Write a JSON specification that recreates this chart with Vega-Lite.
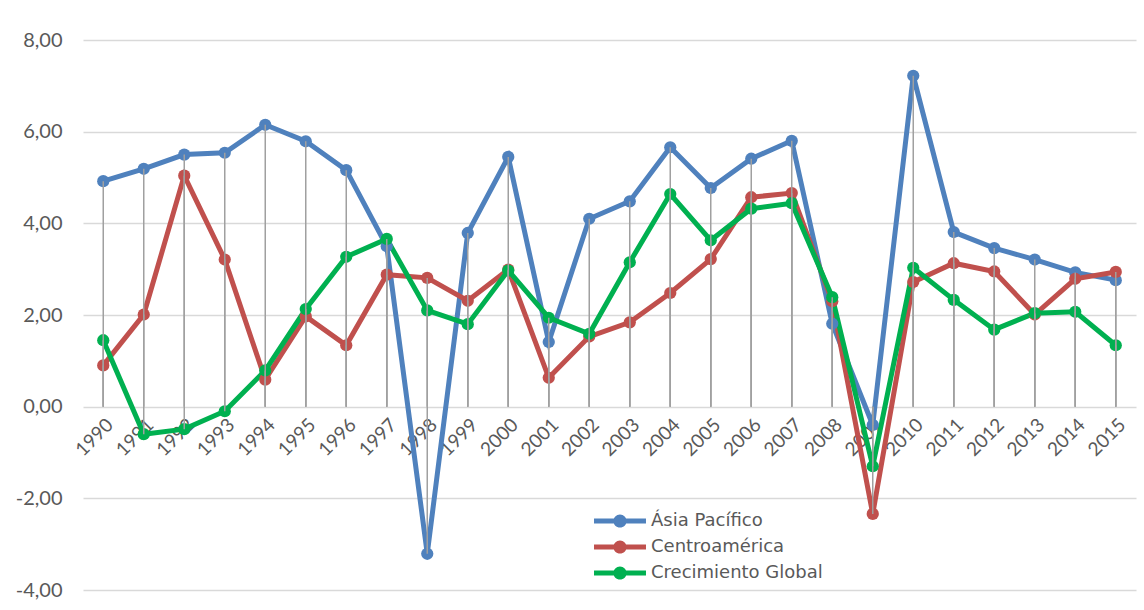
{
  "$schema": "https://vega.github.io/schema/vega-lite/v6.json",
  "width": 1053,
  "height": 550,
  "autosize": "none",
  "padding": {"left": 83, "top": 40, "right": 8, "bottom": 20},
  "background": "white",
  "config": {"view": {"stroke": null}, "font": "Lato"},
  "data": {"values": [
    {"year": "1990", "region": "Ásia Pacífico", "value": 4.92},
    {"year": "1991", "region": "Ásia Pacífico", "value": 5.19},
    {"year": "1992", "region": "Ásia Pacífico", "value": 5.50},
    {"year": "1993", "region": "Ásia Pacífico", "value": 5.54},
    {"year": "1994", "region": "Ásia Pacífico", "value": 6.15},
    {"year": "1995", "region": "Ásia Pacífico", "value": 5.79},
    {"year": "1996", "region": "Ásia Pacífico", "value": 5.16},
    {"year": "1997", "region": "Ásia Pacífico", "value": 3.50},
    {"year": "1998", "region": "Ásia Pacífico", "value": -3.21},
    {"year": "1999", "region": "Ásia Pacífico", "value": 3.79},
    {"year": "2000", "region": "Ásia Pacífico", "value": 5.45},
    {"year": "2001", "region": "Ásia Pacífico", "value": 1.41},
    {"year": "2002", "region": "Ásia Pacífico", "value": 4.10},
    {"year": "2003", "region": "Ásia Pacífico", "value": 4.48},
    {"year": "2004", "region": "Ásia Pacífico", "value": 5.66},
    {"year": "2005", "region": "Ásia Pacífico", "value": 4.77},
    {"year": "2006", "region": "Ásia Pacífico", "value": 5.41},
    {"year": "2007", "region": "Ásia Pacífico", "value": 5.80},
    {"year": "2008", "region": "Ásia Pacífico", "value": 1.81},
    {"year": "2009", "region": "Ásia Pacífico", "value": -0.40},
    {"year": "2010", "region": "Ásia Pacífico", "value": 7.22},
    {"year": "2011", "region": "Ásia Pacífico", "value": 3.81},
    {"year": "2012", "region": "Ásia Pacífico", "value": 3.46},
    {"year": "2013", "region": "Ásia Pacífico", "value": 3.21},
    {"year": "2014", "region": "Ásia Pacífico", "value": 2.93},
    {"year": "2015", "region": "Ásia Pacífico", "value": 2.76},
    {"year": "1990", "region": "Centroamérica", "value": 0.90},
    {"year": "1991", "region": "Centroamérica", "value": 2.01},
    {"year": "1992", "region": "Centroamérica", "value": 5.04},
    {"year": "1993", "region": "Centroamérica", "value": 3.21},
    {"year": "1994", "region": "Centroamérica", "value": 0.59},
    {"year": "1995", "region": "Centroamérica", "value": 1.97},
    {"year": "1996", "region": "Centroamérica", "value": 1.34},
    {"year": "1997", "region": "Centroamérica", "value": 2.88},
    {"year": "1998", "region": "Centroamérica", "value": 2.81},
    {"year": "1999", "region": "Centroamérica", "value": 2.31},
    {"year": "2000", "region": "Centroamérica", "value": 2.99},
    {"year": "2001", "region": "Centroamérica", "value": 0.63},
    {"year": "2002", "region": "Centroamérica", "value": 1.53},
    {"year": "2003", "region": "Centroamérica", "value": 1.84},
    {"year": "2004", "region": "Centroamérica", "value": 2.48},
    {"year": "2005", "region": "Centroamérica", "value": 3.22},
    {"year": "2006", "region": "Centroamérica", "value": 4.57},
    {"year": "2007", "region": "Centroamérica", "value": 4.66},
    {"year": "2008", "region": "Centroamérica", "value": 2.30},
    {"year": "2009", "region": "Centroamérica", "value": -2.34},
    {"year": "2010", "region": "Centroamérica", "value": 2.72},
    {"year": "2011", "region": "Centroamérica", "value": 3.13},
    {"year": "2012", "region": "Centroamérica", "value": 2.95},
    {"year": "2013", "region": "Centroamérica", "value": 2.01},
    {"year": "2014", "region": "Centroamérica", "value": 2.79},
    {"year": "2015", "region": "Centroamérica", "value": 2.94},
    {"year": "1990", "region": "Crecimiento Global", "value": 1.45},
    {"year": "1991", "region": "Crecimiento Global", "value": -0.60},
    {"year": "1992", "region": "Crecimiento Global", "value": -0.49},
    {"year": "1993", "region": "Crecimiento Global", "value": -0.10},
    {"year": "1994", "region": "Crecimiento Global", "value": 0.79},
    {"year": "1995", "region": "Crecimiento Global", "value": 2.13},
    {"year": "1996", "region": "Crecimiento Global", "value": 3.27},
    {"year": "1997", "region": "Crecimiento Global", "value": 3.66},
    {"year": "1998", "region": "Crecimiento Global", "value": 2.10},
    {"year": "1999", "region": "Crecimiento Global", "value": 1.80},
    {"year": "2000", "region": "Crecimiento Global", "value": 2.97},
    {"year": "2001", "region": "Crecimiento Global", "value": 1.94},
    {"year": "2002", "region": "Crecimiento Global", "value": 1.59},
    {"year": "2003", "region": "Crecimiento Global", "value": 3.15},
    {"year": "2004", "region": "Crecimiento Global", "value": 4.64},
    {"year": "2005", "region": "Crecimiento Global", "value": 3.63},
    {"year": "2006", "region": "Crecimiento Global", "value": 4.32},
    {"year": "2007", "region": "Crecimiento Global", "value": 4.44},
    {"year": "2008", "region": "Crecimiento Global", "value": 2.39},
    {"year": "2009", "region": "Crecimiento Global", "value": -1.30},
    {"year": "2010", "region": "Crecimiento Global", "value": 3.03},
    {"year": "2011", "region": "Crecimiento Global", "value": 2.33},
    {"year": "2012", "region": "Crecimiento Global", "value": 1.68},
    {"year": "2013", "region": "Crecimiento Global", "value": 2.04},
    {"year": "2014", "region": "Crecimiento Global", "value": 2.07},
    {"year": "2015", "region": "Crecimiento Global", "value": 1.34}
  ]},
  "encoding": {
    "x": {
      "field": "year", "type": "ordinal",
      "scale": {"type": "point", "padding": 0.5},
      "axis": {
        "title": null, "labelAngle": -45, "labelFontSize": 19, "labelColor": "#595959",
        "domain": false, "ticks": false, "grid": false, "offset": -183, "labelPadding": 8
      }
    },
    "y": {
      "field": "value", "type": "quantitative",
      "scale": {"domain": [-4, 8], "nice": false, "zero": false},
      "axis": {
        "title": null, "values": [-4, -2, 0, 2, 4, 6, 8],
        "grid": true, "gridColor": "#d9d9d9", "gridWidth": 1.3,
        "domain": false, "ticks": false, "labelPadding": 21,
        "labelFontSize": 20, "labelColor": "#595959",
        "labelExpr": "replace(replace(format(datum.value, '.2f'), '.', ','), '\u2212', '-')"
      }
    }
  },
  "layer": [
    {
      "mark": {"type": "line", "strokeWidth": 5, "point": {"filled": true, "size": 150, "opacity": 1}},
      "encoding": {
        "color": {
          "field": "region", "type": "nominal",
          "scale": {"domain": ["Ásia Pacífico", "Centroamérica", "Crecimiento Global"], "range": ["#4F81BD", "#C0504D", "#00B050"]},
          "legend": {
            "title": null, "orient": "none", "legendX": 528, "legendY": 472,
            "padding": 0, "rowPadding": 8, "labelFont": "DejaVu Sans", "labelFontSize": 18, "labelColor": "#595959",
            "labelLimit": 400, "labelOffset": 22, "symbolSize": 144,
            "symbolType": "M-4.33,-0.42 L4.33,-0.42 L4.33,0.42 L-4.33,0.42 Z M1.1,0 A1.1,1.1 0 1,1 -1.1,0 A1.1,1.1 0 1,1 1.1,0 Z",
            "symbolStrokeWidth": 0,
            "encode": {"symbols": {"update": {"fill": {"scale": "color", "field": "value"}, "opacity": {"value": 1}}}}
          }
        }
      }
    },
    {
      "mark": {"type": "rule", "color": "#a0a0a0", "strokeWidth": 1.5},
      "encoding": {"y2": {"datum": 0}, "detail": {"field": "region"}}
    }
  ]
}
